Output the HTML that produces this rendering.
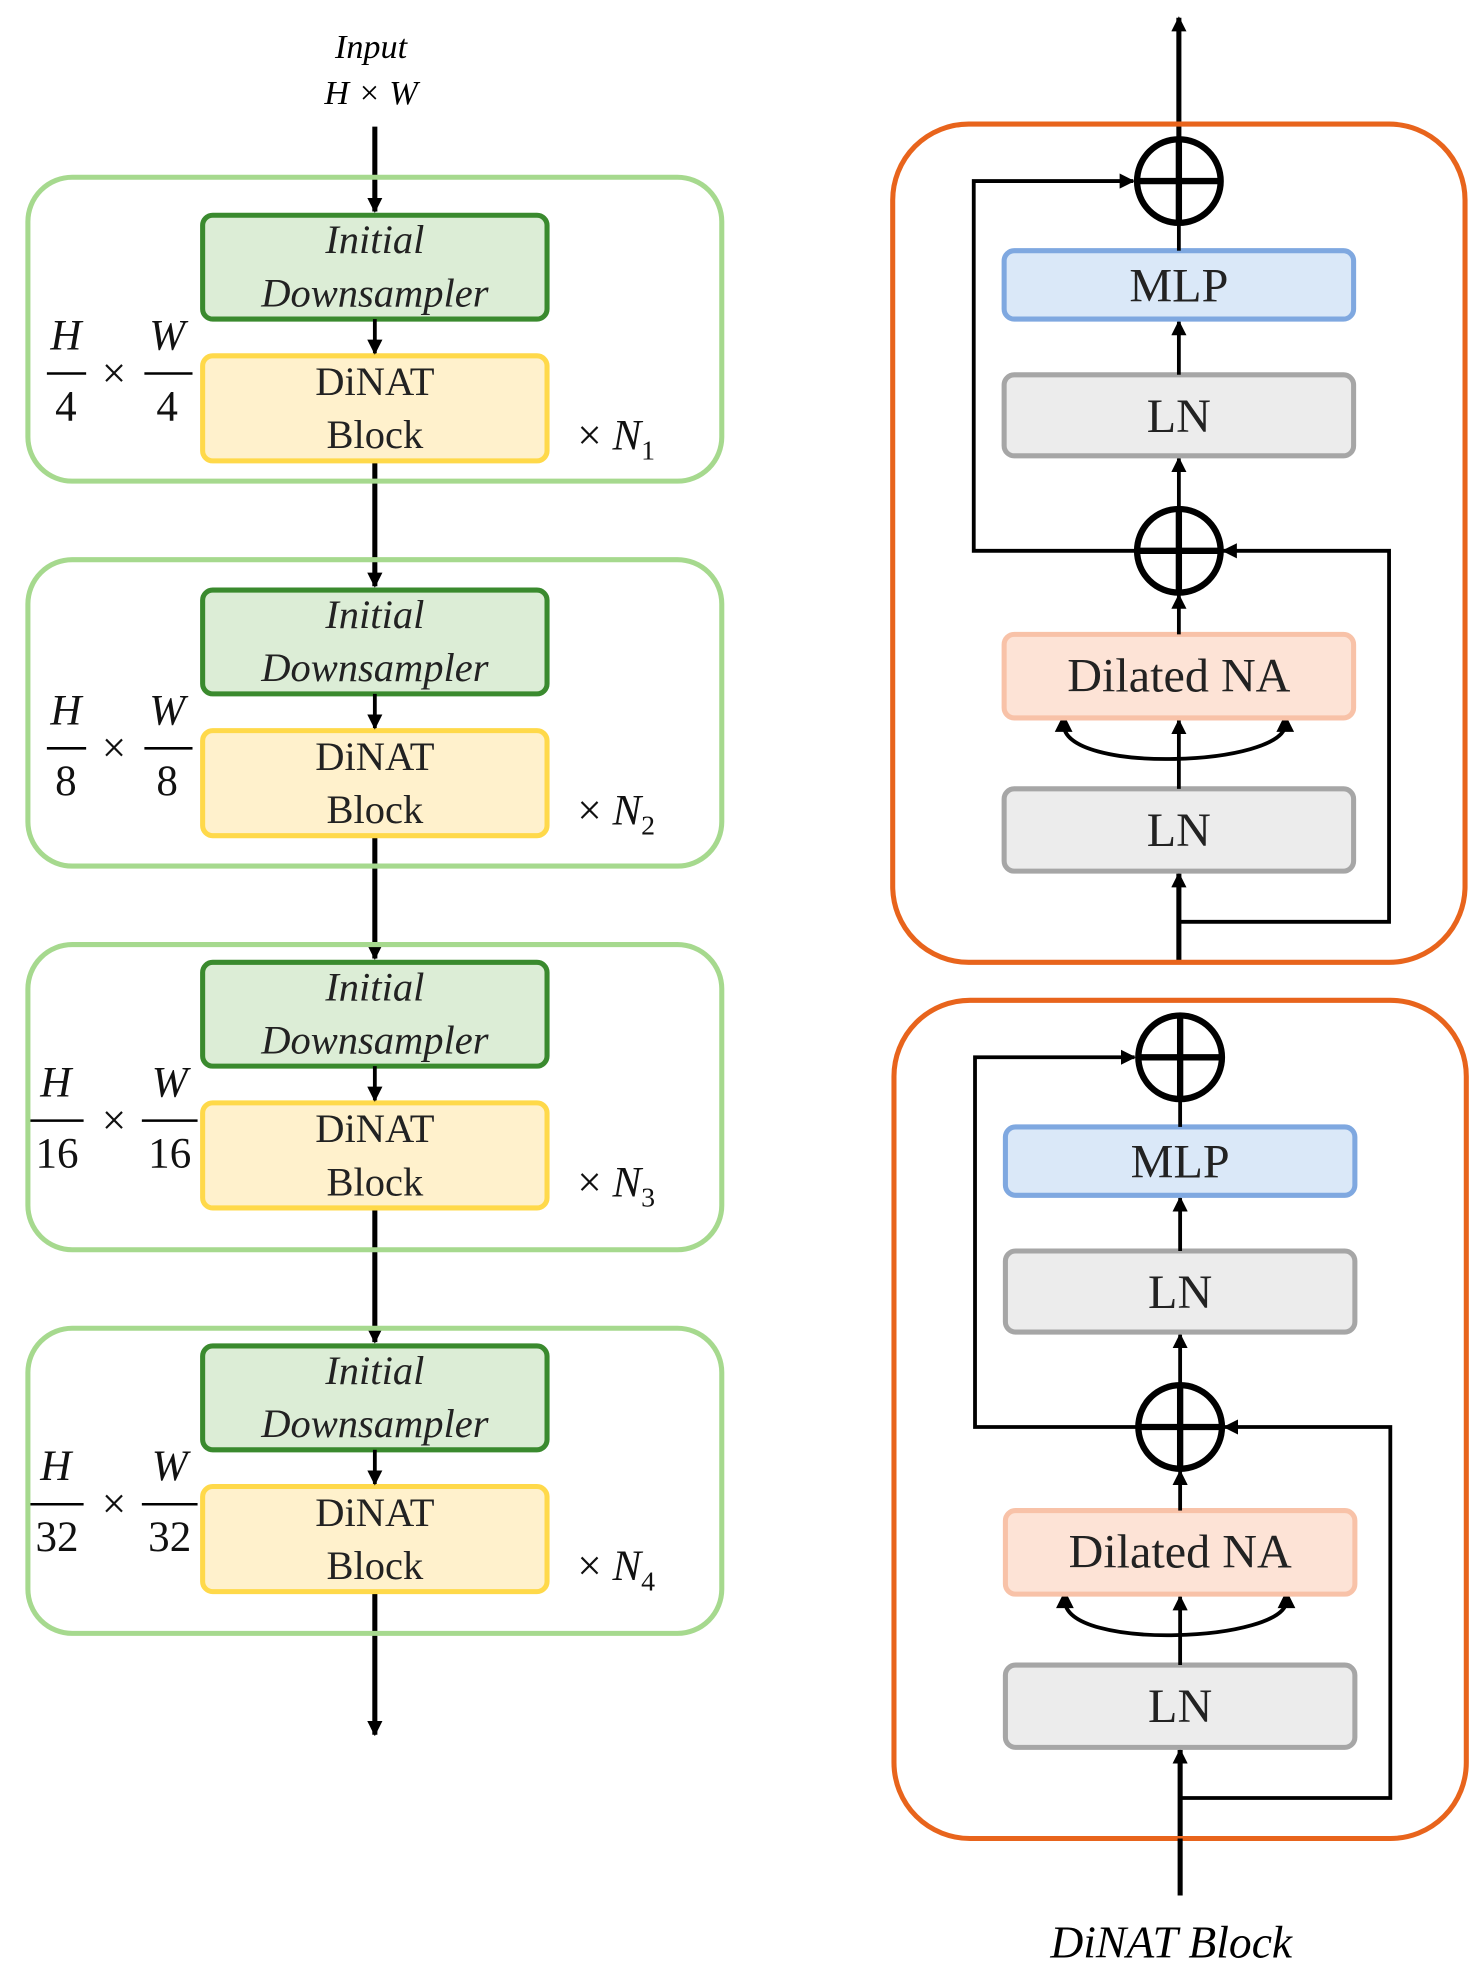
<!DOCTYPE html>
<html><head><meta charset="utf-8"><style>html,body{margin:0;padding:0;background:#fff}svg{display:block}</style></head>
<body>
<svg width="1479" height="1974" viewBox="0 0 1168 1559" xmlns="http://www.w3.org/2000/svg" font-family="Liberation Serif, serif">
<defs>
<marker id="a" markerWidth="8" markerHeight="8" refX="6" refY="4" orient="auto" markerUnits="userSpaceOnUse" viewBox="0 0 8 8"><path d="M0,0 L8,4 L0,8 z" fill="#000"/></marker>
<marker id="b" viewBox="0 0 10 10" refX="9" refY="5" markerWidth="12" markerHeight="12" orient="auto" markerUnits="userSpaceOnUse"><path d="M0,0 L10,5 L0,10 z" fill="#000"/></marker>
<g id="stage">
<rect x="160" y="170" width="272" height="82" rx="8" fill="#dcedd6" stroke="#3a8a2e" stroke-width="4"/>
<text x="296" y="200" font-size="32" font-style="italic" text-anchor="middle" fill="#222">Initial</text>
<text x="296" y="242" font-size="32" font-style="italic" text-anchor="middle" fill="#222">Downsampler</text>
<rect x="160" y="281" width="272" height="83" rx="8" fill="#fff1cc" stroke="#ffd94a" stroke-width="4"/>
<text x="296" y="312" font-size="32" text-anchor="middle" fill="#222">DiNAT</text>
<text x="296" y="354" font-size="32" text-anchor="middle" fill="#222">Block</text>
<line x1="296" y1="252" x2="296" y2="279" stroke="#000" stroke-width="3" marker-end="url(#b)"/>
</g>
<g id="blk">
<line x1="931" y1="760" x2="931" y2="690" stroke="#000" stroke-width="4" marker-end="url(#b)"/>
<rect x="793" y="623" width="276" height="65" rx="8" fill="#ececec" stroke="#a6a6a6" stroke-width="4"/>
<text x="931" y="668" font-size="38" text-anchor="middle" fill="#222">LN</text>
<line x1="931" y1="623" x2="931" y2="569" stroke="#000" stroke-width="3" marker-end="url(#b)"/>
<path d="M1015,572 C1015,605 840,612 840,572" fill="none" stroke="#000" stroke-width="3"/>
<path d="M833,578 L840,564 L847,578 z M1008,578 L1015,564 L1022,578 z"/>
<rect x="793" y="501" width="276" height="66" rx="8" fill="#fde3d6" stroke="#f8c2a8" stroke-width="4"/>
<text x="931" y="546" font-size="38" text-anchor="middle" fill="#222">Dilated NA</text>
<line x1="931" y1="501" x2="931" y2="470" stroke="#000" stroke-width="3" marker-end="url(#b)"/>
<circle cx="931" cy="435" r="33" fill="#fff" stroke="#000" stroke-width="5"/>
<line x1="898" y1="435" x2="964" y2="435" stroke="#000" stroke-width="5"/>
<line x1="931" y1="402" x2="931" y2="468" stroke="#000" stroke-width="5"/>
<polyline points="931,728 1097,728 1097,435 966,435" fill="none" stroke="#000" stroke-width="3" marker-end="url(#b)"/>
<line x1="931" y1="402" x2="931" y2="362" stroke="#000" stroke-width="3" marker-end="url(#b)"/>
<rect x="793" y="296" width="276" height="64" rx="8" fill="#ececec" stroke="#a6a6a6" stroke-width="4"/>
<text x="931" y="341" font-size="38" text-anchor="middle" fill="#222">LN</text>
<line x1="931" y1="296" x2="931" y2="254" stroke="#000" stroke-width="3" marker-end="url(#b)"/>
<rect x="793" y="198" width="276" height="54" rx="8" fill="#dae8f8" stroke="#7fa8e0" stroke-width="4"/>
<text x="931" y="238" font-size="38" text-anchor="middle" fill="#222">MLP</text>
<line x1="931" y1="198" x2="931" y2="176" stroke="#000" stroke-width="3"/>
<polyline points="898,435 769,435 769,143 895,143" fill="none" stroke="#000" stroke-width="3" marker-end="url(#b)"/>
<circle cx="931" cy="143" r="33" fill="#fff" stroke="#000" stroke-width="5"/>
<line x1="898" y1="143" x2="964" y2="143" stroke="#000" stroke-width="5"/>
<line x1="931" y1="110" x2="931" y2="176" stroke="#000" stroke-width="5"/>
<rect x="705" y="98" width="452" height="662" rx="60" fill="none" stroke="#e8641c" stroke-width="4"/>
</g>
</defs>

<!-- LEFT -->
<text x="293" y="46" font-size="27" font-style="italic" text-anchor="middle">Input</text>
<text x="293" y="82" font-size="27" font-style="italic" text-anchor="middle">H × W</text>
<line x1="296" y1="100" x2="296" y2="167" stroke="#000" stroke-width="4" marker-end="url(#b)"/>
<line x1="296" y1="364" x2="296" y2="463" stroke="#000" stroke-width="4" marker-end="url(#b)"/>
<line x1="296" y1="660" x2="296" y2="757" stroke="#000" stroke-width="4" marker-end="url(#b)"/>
<line x1="296" y1="954" x2="296" y2="1060" stroke="#000" stroke-width="4" marker-end="url(#b)"/>
<line x1="296" y1="1257" x2="296" y2="1370" stroke="#000" stroke-width="4" marker-end="url(#b)"/>

<rect x="22" y="140" width="548" height="240" rx="35" fill="none" stroke="#a6d98e" stroke-width="4"/>
<rect x="22" y="442" width="548" height="242" rx="35" fill="none" stroke="#a6d98e" stroke-width="4"/>
<rect x="22" y="746" width="548" height="241" rx="35" fill="none" stroke="#a6d98e" stroke-width="4"/>
<rect x="22" y="1049" width="548" height="241" rx="35" fill="none" stroke="#a6d98e" stroke-width="4"/>

<use href="#stage"/>
<use href="#stage" transform="translate(0,296)"/>
<use href="#stage" transform="translate(0,590)"/>
<use href="#stage" transform="translate(0,893)"/>

<g font-size="34" fill="#111">
<g>
<text x="52" y="276" font-style="italic" text-anchor="middle">H</text><line x1="37" y1="295" x2="68" y2="295" stroke="#000" stroke-width="2"/><text x="52" y="332" text-anchor="middle">4</text>
<text x="90" y="306" text-anchor="middle">×</text>
<text x="132" y="276" font-style="italic" text-anchor="middle">W</text><line x1="114" y1="295" x2="152" y2="295" stroke="#000" stroke-width="2"/><text x="132" y="332" text-anchor="middle">4</text>
<text x="456" y="355">× <tspan font-style="italic">N</tspan><tspan font-size="22" dy="8">1</tspan></text>
</g>
<g transform="translate(0,296)">
<text x="52" y="276" font-style="italic" text-anchor="middle">H</text><line x1="37" y1="295" x2="68" y2="295" stroke="#000" stroke-width="2"/><text x="52" y="332" text-anchor="middle">8</text>
<text x="90" y="306" text-anchor="middle">×</text>
<text x="132" y="276" font-style="italic" text-anchor="middle">W</text><line x1="114" y1="295" x2="152" y2="295" stroke="#000" stroke-width="2"/><text x="132" y="332" text-anchor="middle">8</text>
<text x="456" y="355">× <tspan font-style="italic">N</tspan><tspan font-size="22" dy="8">2</tspan></text>
</g>
<g transform="translate(0,590)">
<text x="44" y="276" font-style="italic" text-anchor="middle">H</text><line x1="24" y1="295" x2="66" y2="295" stroke="#000" stroke-width="2"/><text x="45" y="332" text-anchor="middle">16</text>
<text x="90" y="306" text-anchor="middle">×</text>
<text x="134" y="276" font-style="italic" text-anchor="middle">W</text><line x1="112" y1="295" x2="156" y2="295" stroke="#000" stroke-width="2"/><text x="134" y="332" text-anchor="middle">16</text>
<text x="456" y="355">× <tspan font-style="italic">N</tspan><tspan font-size="22" dy="8">3</tspan></text>
</g>
<g transform="translate(0,893)">
<text x="44" y="276" font-style="italic" text-anchor="middle">H</text><line x1="24" y1="295" x2="66" y2="295" stroke="#000" stroke-width="2"/><text x="45" y="332" text-anchor="middle">32</text>
<text x="90" y="306" text-anchor="middle">×</text>
<text x="134" y="276" font-style="italic" text-anchor="middle">W</text><line x1="112" y1="295" x2="156" y2="295" stroke="#000" stroke-width="2"/><text x="134" y="332" text-anchor="middle">32</text>
<text x="456" y="355">× <tspan font-style="italic">N</tspan><tspan font-size="22" dy="8">4</tspan></text>
</g>
</g>

<!-- RIGHT -->
<line x1="931" y1="110" x2="931" y2="14" stroke="#000" stroke-width="4" marker-end="url(#b)"/>
<use href="#blk"/>
<use href="#blk" transform="translate(1,692)"/>
<line x1="932" y1="1497" x2="932" y2="1452" stroke="#000" stroke-width="4"/>
<text x="925" y="1546" font-size="36" font-style="italic" text-anchor="middle">DiNAT Block</text>
</svg>
</body></html>
